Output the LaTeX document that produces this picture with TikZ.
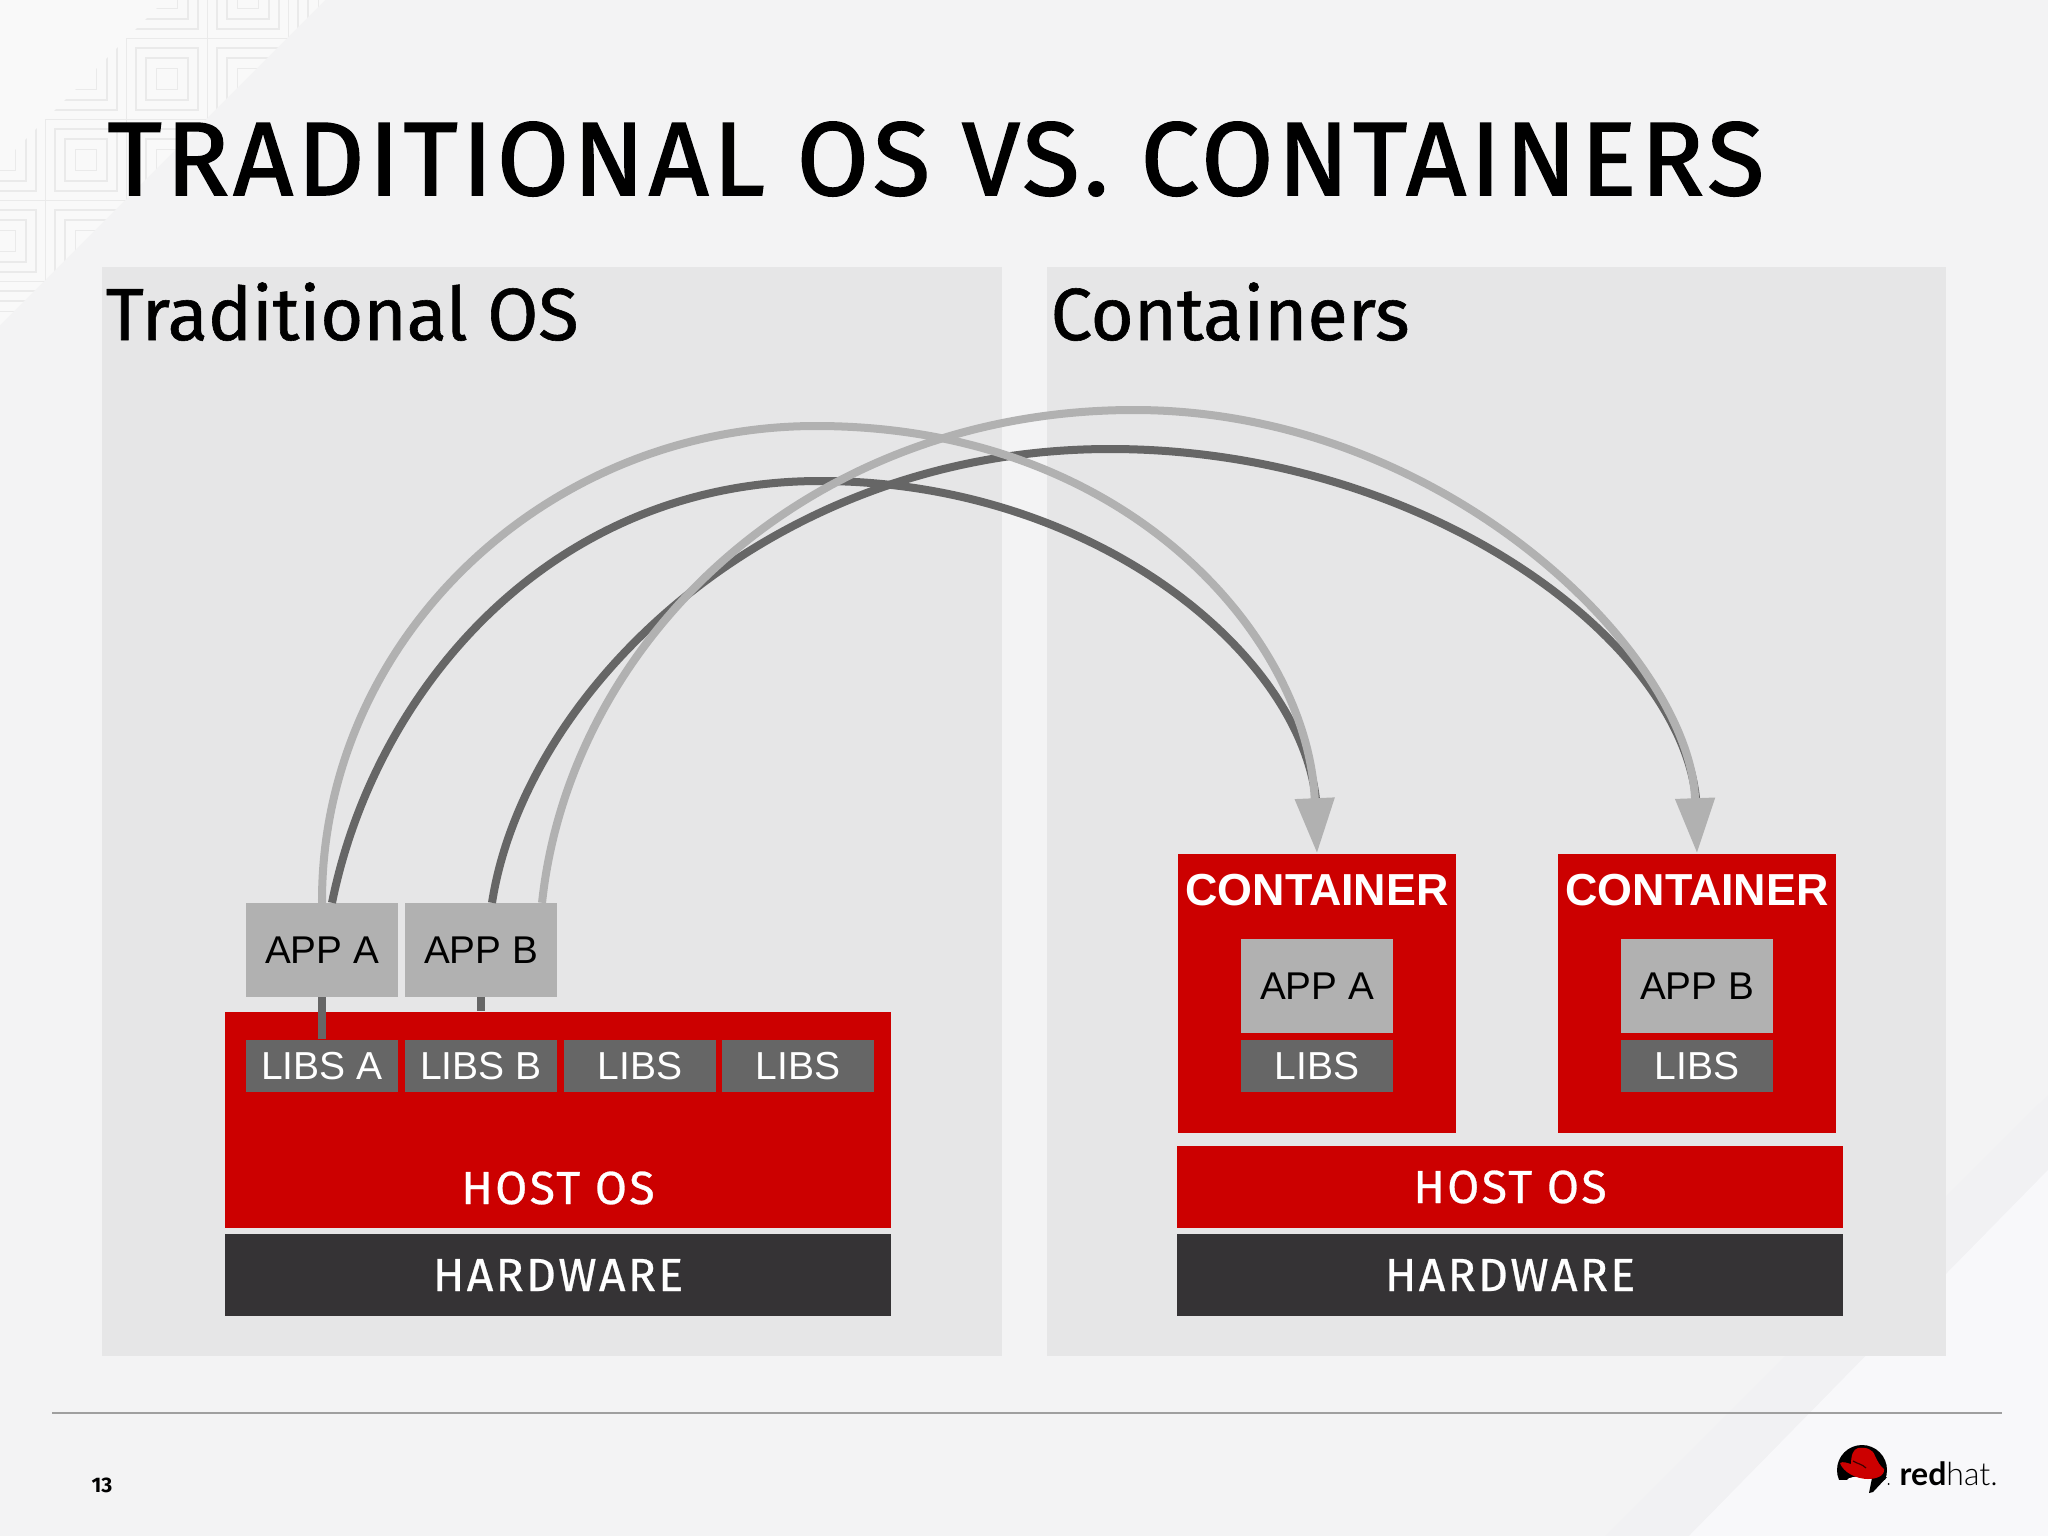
\documentclass[tikz,border=0pt]{standalone}
\usepackage{fontspec}
\setmainfont{Liberation Sans}
\newfontfamily\headfont[Ligatures={NoCommon}]{Fira Sans}
\newfontfamily\logolight[UprightFont=* Light]{Lato}
\newfontfamily\logobold{Lato}
\usetikzlibrary{arrows.meta}
\definecolor{pagegray}{HTML}{F3F3F4}
\definecolor{cornergray}{HTML}{F9F9F9}
\definecolor{bandgray}{HTML}{F1F1F3}
\definecolor{farcorner}{HTML}{F8F8FA}
\definecolor{tilegray}{HTML}{EAEAEA}
\definecolor{panelgray}{HTML}{E6E6E7}
\definecolor{hatred}{HTML}{CC0000}
\definecolor{hwdark}{HTML}{353335}
\definecolor{appgray}{HTML}{B1B1B1}
\definecolor{libsgray}{HTML}{666666}
\tikzset{
    panel/.style={fill=panelgray},
    appbox/.style={fill=appgray,text=black,inner sep=0,minimum width=1.52cm,minimum height=.93cm,font=\fontsize{11pt}{13pt}\selectfont},
    libsbox/.style={fill=libsgray,text=white,inner sep=0,minimum width=1.52cm,minimum height=.52cm,font=\fontsize{11.1pt}{13pt}\selectfont},
    stackbox/.style={inner sep=0,text=white,minimum width=6.66cm,font=\headfont\fontsize{13.2pt}{15pt}\selectfont\addfontfeature{LetterSpace=5,FakeBold=.6}},
    heading/.style={inner sep=0,anchor=base west,font=\headfont\fontsize{21pt}{24pt}\selectfont\addfontfeature{FakeBold=.8}},
    boxname/.style={text=white,inner sep=0,font=\bfseries\fontsize{12.75pt}{15pt}\selectfont},
    lightarc/.style={line width=.08cm,draw=appgray},
    darkarc/.style={line width=.08cm,draw=libsgray},
    bigtip/.style={-{Triangle[length=.55cm,width=.38cm]}}
}
\begin{document}
\begin{tikzpicture}[x=.01cm,y=-.01cm]
    \useasboundingbox (0,0) rectangle (2048,1536);
    \fill[pagegray] (0,0) rectangle (2048,1536);
    \fill[cornergray] (0,0) -- (325,0) -- (0,325) -- cycle;
    \fill[bandgray] (2048,1095) -- (2048,1170) -- (1689,1536) -- (1605,1536) -- cycle;
    \fill[farcorner] (2048,1170) -- (2048,1536) -- (1689,1536) -- cycle;
    \begin{scope}
        \clip (165,0) -- (325,0) -- (0,325) -- (0,165) -- cycle;
        \foreach \cx in {5,86,167,248,329}
            \foreach \cy in {-2,79,160,241,322}
                \foreach \r in {10.5,21,31,40.5}
                    \draw[tilegray,line width=.015cm] (\cx-\r,\cy-\r) rectangle (\cx+\r,\cy+\r);
    \end{scope}

    \fill[panel] (102,267) rectangle (1002,1356);
    \fill[panel] (1047,267) rectangle (1946,1356);

    \node[inner sep=0,anchor=base west,font=\headfont\fontsize{29.7pt}{32pt}\selectfont\addfontfeature{LetterSpace=4,FakeBold=1.5}] (title) at (107,195) {TRADITIONAL OS VS. CONTAINERS};
    \node[heading] (tradhead) at (105,340) {Traditional OS};
    \node[heading] (conthead) at (1050,340) {Containers};

    \node[stackbox,fill=hatred,minimum height=2.16cm] (hostL) at (558,1120) {};
    \node[stackbox,fill=hwdark,minimum height=.81cm] (hwL) at (558,1275) {HARDWARE};
    \node[stackbox] (hostLname) at (558,1188) {HOST OS};

    \node[libsbox] (libsA) at (322,1066) {LIBS A};
    \node[libsbox] (libsB) at (481,1066) {LIBS B};
    \node[libsbox] (libsC) at (640,1066) {LIBS};
    \node[libsbox] (libsD) at (798,1066) {LIBS};
    \node[appbox] (appA) at (322,950) {APP A};
    \node[appbox] (appB) at (481,950) {APP B};
    \draw[libsgray,line width=.08cm] (appA.south) -- (libsA.north);
    \draw[libsgray,line width=.08cm] (appB.south) -- (appB.south |- hostL.north);

    \node[stackbox,fill=hatred,minimum height=.82cm] (hostR) at (1510,1187) {HOST OS};
    \node[stackbox,fill=hwdark,minimum height=.81cm] (hwR) at (1510,1275) {HARDWARE};

    \node[fill=hatred,minimum width=2.78cm,minimum height=2.79cm] (contA) at (1317,993.5) {};
    \node[fill=hatred,minimum width=2.78cm,minimum height=2.79cm] (contB) at (1697,993.5) {};
    \node[boxname] (contAname) at (1317,890) {CONTAINER};
    \node[boxname] (contBname) at (1697,890) {CONTAINER};
    \node[appbox] (appC) at (1317,986) {APP A};
    \node[appbox] (appD) at (1697,986) {APP B};
    \node[libsbox] (libsE) at (1317,1066) {LIBS};
    \node[libsbox] (libsF) at (1697,1066) {LIBS};

    \draw[darkarc] ([xshift=.1cm]appA.north) .. controls (375,690) and (550,481) .. (820,481)
        .. controls (1100,481) and (1312,662) .. ([yshift=.4cm]contA.north);
    \draw[darkarc] ([xshift=.11cm]appB.north) .. controls (525,690) and (770,449) .. (1110,449)
        .. controls (1431,449) and (1694,648) .. ([yshift=.4cm]contB.north);
    \draw[lightarc,bigtip] (appA.north) .. controls (321,641) and (544,426) .. (816,426)
        .. controls (1130,426) and (1308,640) .. (contA.north);
    \draw[lightarc,bigtip] ([xshift=.61cm]appB.north) .. controls (570,640) and (808,410) .. (1134,410)
        .. controls (1444,410) and (1690,654) .. (contB.north);

    \coordinate (ruleL) at (52,1413);
    \coordinate (ruleR) at (2002,1413);
    \draw[gray!75,line width=.015cm] (ruleL) -- (ruleR);
    \node[font=\headfont\bfseries\fontsize{6pt}{7pt}\selectfont] (pagenum) at (102,1485) {13};

    \begin{scope}
        \clip (1862,1470) circle (25);
        \fill[black] (1835,1441) rectangle (1889,1480);
        \fill[white] (1847,1480) .. controls (1849,1475) and (1876,1475) .. (1878,1480) -- cycle;
    \end{scope}
    \fill[black] (1887,1477) -- (1873,1492) -- (1869,1493) -- (1872,1478) -- cycle;
    \fill[hatred] (1840,1463) .. controls (1843,1472) and (1856,1479) .. (1868,1479)
        .. controls (1876,1479) and (1885,1476) .. (1884,1469)
        .. controls (1880,1466) and (1878,1462) .. (1875,1456)
        .. controls (1873,1449) and (1866,1447) .. (1858,1448)
        .. controls (1853,1449) and (1851,1456) .. (1851,1464)
        .. controls (1847,1463) and (1843,1461) .. (1840,1463) -- cycle;
    \draw[black!70!hatred,line width=.012cm] (1853,1461) .. controls (1858,1464) and (1862,1464) .. (1866,1468);
    \fill[black] (1888.5,1484) circle (1);
    \node[inner sep=0,anchor=base west,font=\fontsize{9.1pt}{11pt}\selectfont] (logotext) at (1899,1485) {{\logobold\bfseries red}{\logolight hat.}};
\end{tikzpicture}
\end{document}
